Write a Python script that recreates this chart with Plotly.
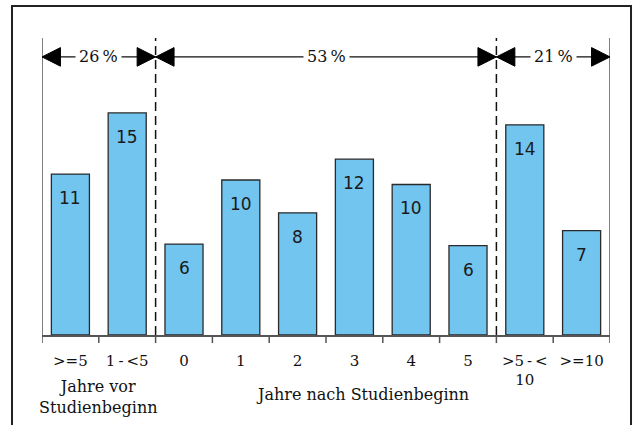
import plotly.graph_objects as go

# ---- data ----
categories = ["&gt;=5", "1\u2009-\u2009&lt;5", "0", "1", "2", "3", "4", "5",
              "&gt;5\u2009-\u2009&lt;<br>10", "&gt;=10"]
values = [10.8, 14.9, 6.1, 10.4, 8.2, 11.8, 10.1, 6.0, 14.1, 7.0]
labels = ["11", "15", "6", "10", "8", "12", "10", "6", "14", "7"]
groups = [(0, 1, "26\u2009%"), (2, 7, "53\u2009%"), (8, 9, "21\u2009%")]
group_texts = ["Jahre vor<br>Studienbeginn", "Jahre nach Studienbeginn"]

BAR = "#72C5EF"
SERIF = "DejaVu Serif"
SANS = "DejaVu Sans"

fig = go.Figure()
fig.add_trace(go.Bar(
    x=list(range(len(categories))), y=values, width=0.67,
    marker=dict(color=BAR, line=dict(color="#2a2a2a", width=1.3)),
    hoverinfo="skip",
))

# value labels inside bars near top
for i, (v, t) in enumerate(zip(values, labels)):
    fig.add_annotation(x=i, y=v, text=t, showarrow=False, yanchor="middle",
                       yshift=-24, font=dict(family=SANS, size=17, color="#1a1a1a"))

shapes = []
Y_ARR = 0.927   # arrow level (paper)
Y_TOP = 0.99
AH_W = 0.325    # arrowhead length in category units
AH_H = 0.031    # arrowhead half height in paper units

boundaries = [-0.5, 1.5, 7.5, 9.5]
for b in boundaries:
    outer = b in (-0.5, 9.5)
    shapes.append(dict(type="line", xref="x", yref="paper", x0=b, x1=b, y0=0, y1=Y_TOP,
                       line=dict(color="#555555" if outer else "#111111", width=1.5,
                                 dash="solid" if outer else "9px,5px")))

for g0, g1, txt in groups:
    a, b = g0 - 0.5, g1 + 0.5
    shapes.append(dict(type="line", xref="x", yref="paper", x0=a, x1=b, y0=Y_ARR, y1=Y_ARR,
                       line=dict(color="#111111", width=1.2)))
    # arrowheads pointing outward
    shapes.append(dict(type="path", xref="x", yref="paper", fillcolor="#000000",
                       line=dict(color="#000000", width=1),
                       path=f"M {a} {Y_ARR} L {a + AH_W} {Y_ARR + AH_H} L {a + AH_W} {Y_ARR - AH_H} Z"))
    shapes.append(dict(type="path", xref="x", yref="paper", fillcolor="#000000",
                       line=dict(color="#000000", width=1),
                       path=f"M {b} {Y_ARR} L {b - AH_W} {Y_ARR + AH_H} L {b - AH_W} {Y_ARR - AH_H} Z"))
    fig.add_annotation(x=(a + b) / 2, y=Y_ARR, xref="x", yref="paper", text=txt, showarrow=False,
                       bgcolor="white", borderpad=3, yanchor="middle",
                       font=dict(family=SERIF, size=16, color="#111111"))

# outer frame
shapes.append(dict(type="rect", xref="paper", yref="paper", x0=-0.0528, x1=1.037, y0=-0.4, y1=1.097,
                   line=dict(color="#222222", width=2)))

fig.add_annotation(x=0.5, y=-0.205, xref="x", yref="paper", text=group_texts[0], showarrow=False,
                   yanchor="middle", borderpad=0,
                   font=dict(family=SERIF, size=16, color="#111111"))
fig.add_annotation(x=0.564, y=-0.197, xref="paper", yref="paper", text=group_texts[1], showarrow=False,
                   yanchor="middle", font=dict(family=SERIF, size=16, color="#111111"))

fig.update_layout(
    width=636, height=425,
    margin=dict(l=42, r=26, t=35, b=90),
    paper_bgcolor="white", plot_bgcolor="white",
    showlegend=False,
    shapes=shapes,
    xaxis=dict(type="linear", range=[-0.5, 9.5], tickmode="array",
               tickvals=list(range(len(categories))), ticktext=categories,
               showline=True, linecolor="#555555", linewidth=1.5,
               ticks="", showgrid=False, zeroline=False, ticklabelstandoff=11,
               tickfont=dict(family=SERIF, size=15, color="#111111")),
    yaxis=dict(range=[0, 20.13], visible=False, showgrid=False, zeroline=False),
)

# boundary tick marks below the axis
for k in range(len(categories) + 1):
    fig.add_shape(type="line", xref="x", yref="paper", x0=k - 0.5, x1=k - 0.5, y0=0, y1=-0.027,
                  line=dict(color="#555555", width=1.5))

fig.write_html("out.html", config={"displayModeBar": False},
               post_script="document.body.style.margin='0';document.body.style.overflow='hidden';")
